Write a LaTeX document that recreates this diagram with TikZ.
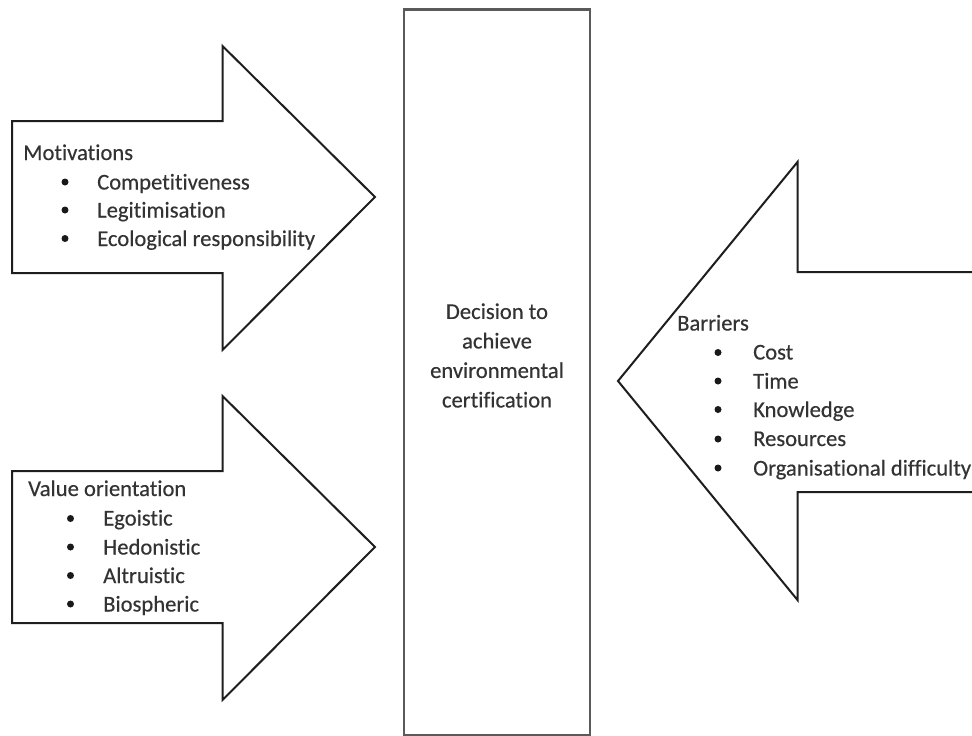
\documentclass[tikz,border=0pt]{standalone}
\usepackage{fontspec}
\setmainfont{Carlito}[Ligatures={NoCommon,NoRequired,NoContextual}]
\newfontfamily\semibfont{Carlito}[Ligatures={NoCommon,NoRequired,NoContextual},FakeBold=0.35]
\definecolor{txtc}{HTML}{333333}
\definecolor{boxc}{HTML}{5A5A5A}
\definecolor{arrc}{HTML}{1E1E1E}
\begin{document}
\begin{tikzpicture}[x=1pt,y=-1pt,
  arrowshape/.style={draw=arrc,line width=2pt,line join=miter,fill=white},
  txt/.style={anchor=base west,inner sep=0pt,text=txtc,font=\semibfont\fontsize{22.6}{29.5}\selectfont},
  bul/.style={circle,fill=black!90,inner sep=0pt,minimum size=7pt},
  decbox/.style={draw=boxc,line width=2.4pt,fill=white,rectangle,inner sep=0pt,minimum width=186pt,minimum height=725.5pt},
  dectxt/.style={align=center,inner sep=0pt,text=txtc,font=\semibfont\fontsize{22.6}{29.5}\selectfont}]
\useasboundingbox (0,0) rectangle (972,736);
\fill[white] (0,0) rectangle (972,736);

% top-left arrow (Motivations)
\draw[arrowshape] (12,121) -- (222.5,121) -- (222.5,46) -- (375,197) -- (222.5,350) -- (222.5,273) -- (12,273) -- cycle;
% bottom-left arrow (Value orientation)
\draw[arrowshape] (12,471) -- (222.5,471) -- (222.5,396) -- (375,547) -- (222.5,700) -- (222.5,623) -- (12,623) -- cycle;
% right arrow (Barriers)
\draw[arrowshape] (985,272) -- (797.5,272) -- (797.5,162) -- (618,381) -- (797.5,600) -- (797.5,492) -- (985,492);

% central box
\node[decbox] (decision) at (497,372.25) {};
\node[dectxt] (dectext) at (497,355.5) {Decision to\\achieve\\environmental\\certification};

% Motivations
\node[txt] (mot) at (23,160) {Motivations};
\node[bul] (motb1) at (65,182) {};
\node[txt] (mot1) at (97,189.5) {Competitiveness};
\node[bul] (motb2) at (65,210) {};
\node[txt] (mot2) at (97,217.5) {Legitimisation};
\node[bul] (motb3) at (65,238.5) {};
\node[txt] (mot3) at (97,246) {Ecological responsibility};

% Value orientation
\node[txt] (val) at (28,496) {Value orientation};
\node[bul] (valb1) at (70.5,518.5) {};
\node[txt] (val1) at (103,525.5) {Egoistic};
\node[bul] (valb2) at (70.5,547) {};
\node[txt] (val2) at (103,554.5) {Hedonistic};
\node[bul] (valb3) at (70.5,575.5) {};
\node[txt] (val3) at (103,583) {Altruistic};
\node[bul] (valb4) at (70.5,604) {};
\node[txt] (val4) at (103,611.5) {Biospheric};

% Barriers
\node[txt] (bar) at (677,330.5) {Barriers};
\node[bul] (barb1) at (718,352.5) {};
\node[txt] (bar1) at (753,359.5) {Cost};
\node[bul] (barb2) at (718,381) {};
\node[txt] (bar2) at (753,388.5) {Time};
\node[bul] (barb3) at (718,409.5) {};
\node[txt] (bar3) at (753,417) {Knowledge};
\node[bul] (barb4) at (718,439) {};
\node[txt] (bar4) at (753,446) {Resources};
\node[bul] (barb5) at (718,468) {};
\node[txt] (bar5) at (753,475.5) {Organisational difficulty};
\end{tikzpicture}
\end{document}
